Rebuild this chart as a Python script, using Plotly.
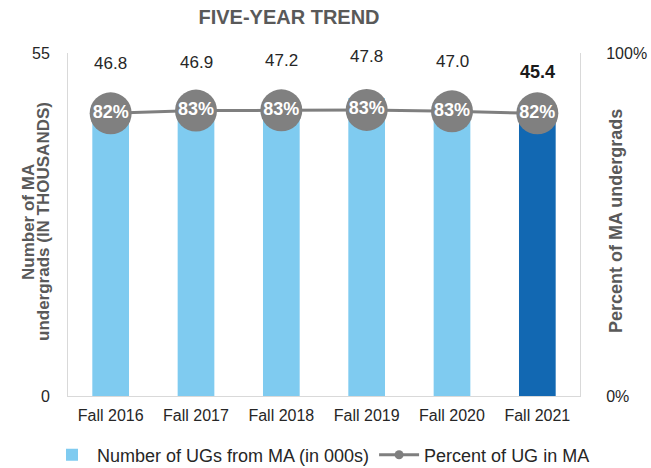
import plotly.graph_objects as go

# data
years = ["Fall 2016", "Fall 2017", "Fall 2018", "Fall 2019", "Fall 2020", "Fall 2021"]
ug_from_ma = [46.8, 46.9, 47.2, 47.8, 47.0, 45.4]  # thousands
pct_in_ma = [0.824, 0.832, 0.833, 0.834, 0.830, 0.824]

FONT = "Liberation Sans, Arial, sans-serif"
LIGHT_BLUE = "#7FCBF0"
DARK_BLUE = "#1268B2"
GRAY = "#7F7F7F"
TITLE_GRAY = "#595959"

W, H = 651, 468
L, R, T, B = 68, 71, 53, 72
pw, ph = W - L - R, H - T - B


def px_x(x):
    return (x - L) / pw


def px_y(y):
    return (H - B - y) / ph


bar_colors = [LIGHT_BLUE] * (len(years) - 1) + [DARK_BLUE]

fig = go.Figure()

fig.add_trace(go.Bar(
    x=years,
    y=ug_from_ma,
    marker=dict(color=bar_colors, line=dict(width=0)),
    width=0.43,
    name="Number of UGs from MA (in 000s)",
    yaxis="y",
))

fig.add_trace(go.Scatter(
    x=years,
    y=pct_in_ma,
    mode="lines+markers+text",
    line=dict(color=GRAY, width=3),
    marker=dict(size=42, color="#808080"),
    text=[f"{int(p * 100 + 0.5)}%" for p in pct_in_ma],
    textposition="middle center",
    textfont=dict(color="white", size=18, family=FONT, weight="bold"),
    yaxis="y2",
    showlegend=False,
))

# legend-only entry so the swatch keeps a small dot
fig.add_trace(go.Scatter(
    x=[None], y=[None],
    mode="lines+markers",
    line=dict(color=GRAY, width=3),
    marker=dict(size=9, color=GRAY),
    name="Percent of UG in MA",
    yaxis="y2",
))

# value labels above the bars
for i, (yr, v) in enumerate(zip(years, ug_from_ma)):
    last = i == len(years) - 1
    fig.add_annotation(
        x=yr, y=v, xref="x", yref="y",
        text=f"<b>{v:.1f}</b>" if last else f"{v:.1f}",
        showarrow=False, yshift=41,
        font=dict(size=18 if last else 17, color="#1a1a1a" if last else "#262626", family=FONT),
    )

# axis titles (one annotation per line to keep the lines tight)
for xpos, line in [(28, "Number of MA"), (43, "undergrads (IN THOUSANDS)")]:
    fig.add_annotation(
        x=px_x(xpos), y=px_y(222), xref="paper", yref="paper",
        xanchor="center", yanchor="middle",
        text=f"<b>{line}</b>", textangle=-90, showarrow=False,
        font=dict(size=17, color=TITLE_GRAY, family=FONT),
    )
fig.add_annotation(
    x=px_x(616), y=px_y(221), xref="paper", yref="paper",
    xanchor="center", yanchor="middle",
    text="<b>Percent of MA undergrads</b>",
    textangle=-90, showarrow=False,
    font=dict(size=18, color=TITLE_GRAY, family=FONT),
)

fig.update_layout(
    width=W, height=H,
    margin=dict(l=L, r=R, t=T, b=B, autoexpand=False),
    paper_bgcolor="white",
    plot_bgcolor="white",
    font=dict(family=FONT, size=16, color="#262626"),
    title=dict(
        text="<b>FIVE-YEAR TREND</b>",
        x=289 / W, xref="container", xanchor="center",
        y=1 - 17 / H, yref="container", yanchor="middle",
        font=dict(size=20, color=TITLE_GRAY, family=FONT),
    ),
    xaxis=dict(
        range=[-0.5, len(years) - 0.5],
        showline=True, linecolor="#D9D9D9", linewidth=1,
        ticks="", showgrid=False, automargin=False,
        tickfont=dict(size=16, color="#262626"),
        ticklabelstandoff=5,
    ),
    yaxis=dict(
        range=[0, 55], tickvals=[0, 55],
        showline=True, linecolor="#D9D9D9", linewidth=1,
        showgrid=False, zeroline=False, ticks="", automargin=False,
        tickfont=dict(size=16, color="#262626"),
        ticklabelstandoff=14,
    ),
    yaxis2=dict(
        range=[0, 1], tickvals=[0, 1], tickformat=".0%",
        overlaying="y", side="right",
        showline=True, linecolor="#D9D9D9", linewidth=1,
        showgrid=False, zeroline=False, ticks="", automargin=False,
        tickfont=dict(size=16, color="#262626"),
        ticklabelstandoff=22,
    ),
    legend=dict(
        orientation="h",
        x=px_x(47), xref="paper", xanchor="left",
        y=px_y(455), yref="paper", yanchor="middle",
        font=dict(size=18, color="#262626"),
        itemwidth=40,
        bgcolor="rgba(0,0,0,0)",
    ),
    showlegend=True,
)

# drop the default page margin so the figure sits at the window's corner
fig.write_html(
    "out.html",
    config={"displayModeBar": False},
    post_script="document.body.style.margin='0';",
)
